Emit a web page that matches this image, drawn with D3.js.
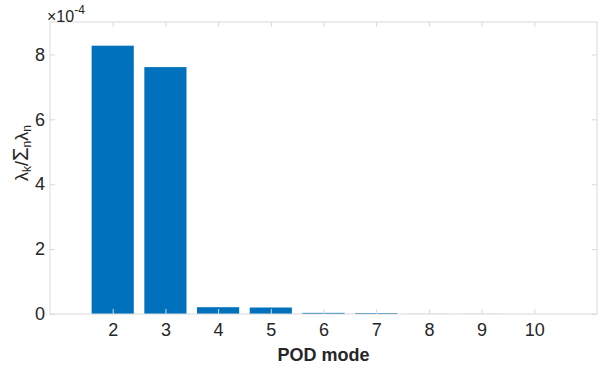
<!DOCTYPE html>
<html>
<head>
<meta charset="utf-8">
<script src="https://cdn.jsdelivr.net/npm/d3@7"></script>
<style>
  body { margin: 0; background: #fff; }
  svg text { font-family: "Liberation Sans", Arial, sans-serif; fill: #262626; }
</style>
</head>
<body>
<div id="chart"></div>
<script>
// POD eigenvalue fractions (x 1e-4)
var modes = [2, 3, 4, 5, 6, 7, 8, 9, 10];
var energy = [8.27, 7.61, 0.21, 0.20, 0.035, 0.03, 0.002, 0.002, 0.001];
var yTicks = [0, 2, 4, 6, 8];

var fullW = 604, fullH = 370;
var margin = {top: 22, right: 7, bottom: 56, left: 50};
var w = fullW - margin.left - margin.right;
var h = fullH - margin.top - margin.bottom;

var svg = d3.select('#chart').append('svg')
  .attr('width', fullW)
  .attr('height', fullH);

var g = svg.append('g')
  .attr('transform', 'translate(' + margin.left + ',' + margin.top + ')');

var x = d3.scaleLinear().domain([0.81, 11.19]).range([0, w]);
var y = d3.scaleLinear().domain([0, 9]).range([h, 0]);
var barW = (x(1) - x(0)) * 0.8;

// bars
g.selectAll('rect.bar')
  .data(modes)
  .enter().append('rect')
  .attr('class', 'bar')
  .attr('x', function(d) { return x(d) - barW / 2; })
  .attr('y', function(d, i) { return y(energy[i]); })
  .attr('width', barW)
  .attr('height', function(d, i) { return h - y(energy[i]); })
  .attr('fill', '#0072bd');

// axes, MATLAB style: ticks inside, box on
var axColor = '#d9d9d9';
function styleAxis(sel, showText) {
  sel.select('.domain').remove();
  sel.selectAll('.tick line').attr('stroke', axColor);
  sel.selectAll('.tick text').style('font-size', '18px').attr('fill', '#262626');
  if (!showText) sel.selectAll('.tick text').remove();
}

g.append('g')
  .attr('transform', 'translate(0,' + h + ')')
  .call(d3.axisBottom(x).tickValues(modes).tickSizeInner(-5).tickPadding(9).tickFormat(d3.format('d')))
  .call(styleAxis, true);

g.append('g')
  .call(d3.axisTop(x).tickValues(modes).tickSizeInner(-5))
  .call(styleAxis, false);

g.append('g')
  .call(d3.axisLeft(y).tickValues(yTicks).tickSizeInner(-5).tickPadding(5).tickFormat(d3.format('d')))
  .call(styleAxis, true);

g.append('g')
  .attr('transform', 'translate(' + w + ',0)')
  .call(d3.axisRight(y).tickValues(yTicks).tickSizeInner(-5))
  .call(styleAxis, false);

g.append('rect')
  .attr('width', w).attr('height', h)
  .attr('fill', 'none')
  .attr('stroke', axColor)
  .attr('stroke-width', 1);

// exponent label
var expo = svg.append('text')
  .attr('x', margin.left - 3)
  .attr('y', 22)
  .style('font-size', '16px');
expo.append('tspan').text('\u00d710');
expo.append('tspan').attr('dy', -8).style('font-size', '12px').text('-4');

// x label
svg.append('text')
  .attr('x', margin.left + w / 2)
  .attr('y', 361)
  .attr('text-anchor', 'middle')
  .style('font-size', '18px')
  .style('font-weight', 'bold')
  .text('POD mode');

// y label
var yl = svg.append('text')
  .attr('transform', 'translate(28,153) rotate(-90)')
  .attr('text-anchor', 'middle')
  .style('font-size', '18px');
yl.append('tspan').text('\u03bb');
yl.append('tspan').attr('dy', 3).style('font-size', '12px').text('k');
yl.append('tspan').attr('dy', -3).text('/');
yl.append('tspan').style('font-size', '22px').text('\u03a3');
yl.append('tspan').attr('dy', 3).style('font-size', '12px').text('n');
yl.append('tspan').attr('dy', -3).text('\u03bb');
yl.append('tspan').attr('dy', 3).style('font-size', '12px').text('n');
</script>
</body>
</html>
